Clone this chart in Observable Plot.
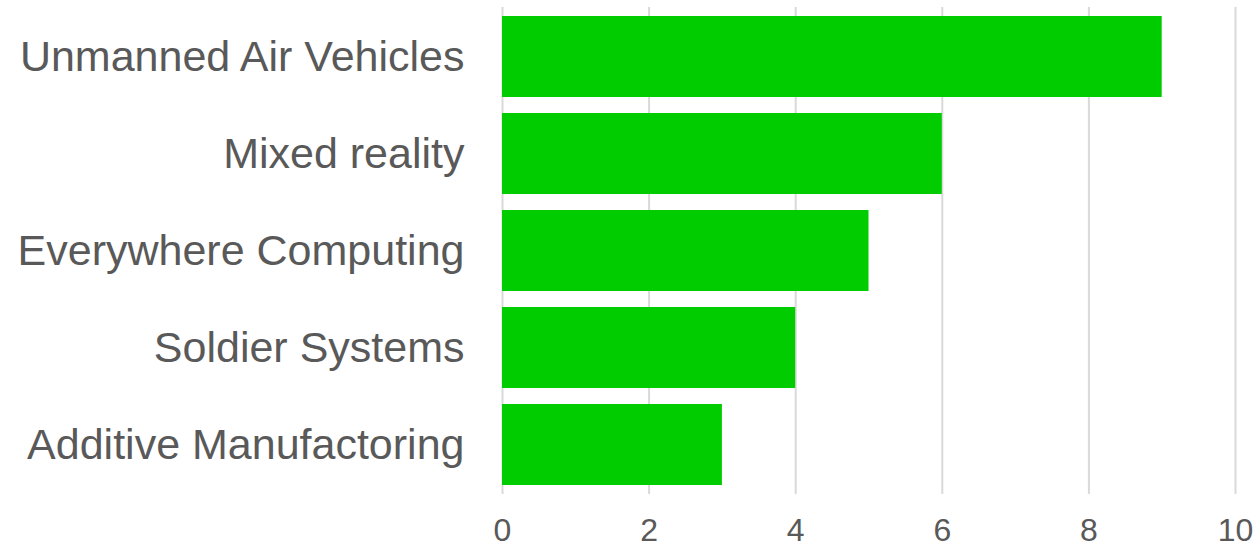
<!DOCTYPE html>
<html>
<head>
<meta charset="utf-8">
<script src="https://cdn.jsdelivr.net/npm/d3@7"></script>
<script src="https://cdn.jsdelivr.net/npm/@observablehq/plot@0.6"></script>
<style>
  html, body { margin: 0; padding: 0; background: #fff; }
  #chart svg { display: block; }
  #chart svg, #chart svg text, #chart svg g { font-family: "Liberation Sans", Arial, Helvetica, sans-serif !important; }
</style>
</head>
<body>
<div id="chart"></div>
<script>
const categories = ["Unmanned Air Vehicles", "Mixed reality", "Everywhere Computing", "Soldier Systems", "Additive Manufactoring"];
const values = [9, 6, 5, 4, 3];
const xTicks = [0, 2, 4, 6, 8, 10];

const data = categories.map((c, i) => ({category: c, value: values[i]}));

const chart = Plot.plot({
  width: 1258,
  height: 549,
  marginLeft: 502,
  marginRight: 23,
  marginTop: 7,
  marginBottom: 55,
  style: {background: "#fff"},
  x: {domain: [0, 10]},
  y: {domain: categories, paddingInner: 0.17, paddingOuter: 0.085},
  marks: [
    Plot.gridX(xTicks, {stroke: "#d9d9d9", strokeOpacity: 1, strokeWidth: 2}),
    Plot.barX(data, {x: "value", y: "category", fill: "#00cc00"}),
    Plot.axisX({ticks: xTicks, tickSize: 0, tickPadding: 24, fontSize: 32, color: "#595959", label: null}),
    Plot.axisY({tickSize: 0, tickPadding: 38, fontSize: 43, color: "#595959", label: null})
  ]
});
document.getElementById("chart").appendChild(chart);
</script>
</body>
</html>
